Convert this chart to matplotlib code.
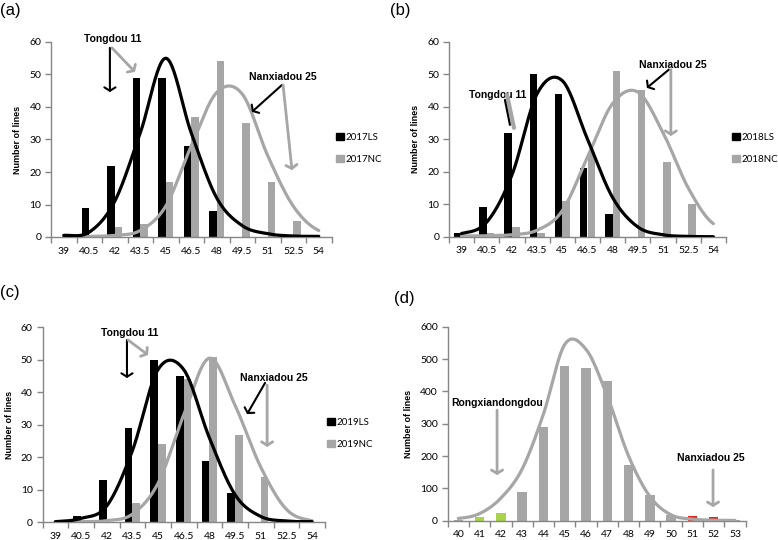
import numpy as np
import matplotlib
matplotlib.use("Agg")
import matplotlib.pyplot as plt
from matplotlib.patches import Patch

W, H = 778, 540

# ---- data ----
cats_abc = ['39', '40.5', '42', '43.5', '45', '46.5', '48', '49.5', '51', '52.5', '54']

ls_2017 = [0, 9, 22, 49, 49, 28, 8, 0, 0, 0, 0]
nc_2017 = [0, 0, 3, 4, 17, 37, 54, 35, 17, 5, 0]
fit_ls_2017 = [0.5, 1.5, 11, 32, 55, 32, 12, 3.5, 1, 0.3, 0.2]
fit_nc_2017 = [0, 0.2, 0.5, 2, 9.5, 28, 44.5, 44, 25, 9.5, 2]

ls_2018 = [1, 9, 32, 50, 44, 21, 7, 0, 0, 0, 0]
nc_2018 = [0, 1, 3, 1, 11, 26, 51, 45, 23, 10, 0]
fit_ls_2018 = [1, 4.5, 19, 44, 48, 30, 12, 3, 0.6, 0.1, 0]
fit_nc_2018 = [0.2, 0.3, 0.6, 2, 8, 24.5, 41, 44.5, 32, 15, 4]

ls_2019 = [0, 2, 13, 29, 50, 45, 19, 9, 0, 0, 0]
nc_2019 = [0, 0, 0, 6, 24, 44, 51, 27, 14, 0, 0]
fit_ls_2019 = [0.2, 1.2, 5, 22, 47, 47, 26, 8.5, 1.8, 0.4, 0.2]
fit_nc_2019 = [0, 0.2, 0.5, 2.5, 12, 33, 50.5, 36, 17, 4, 0.5]

cats_d = ['40', '41', '42', '43', '44', '45', '46', '47', '48', '49', '50', '51', '52', '53']
all_d = [3, 10, 25, 90, 290, 480, 473, 432, 173, 79, 17, 16, 12, 3]
fit_d = [7, 22, 70, 160, 330, 545, 530, 385, 200, 75, 18, 5, 1.5, 1]
# which parent each highlighted bar belongs to
col_d = ['g', 'y', 'y', 'g', 'g', 'g', 'g', 'g', 'g', 'g', 'g', 'r', 'r', 'g']

BLACK = '#000000'
GREY = '#a6a6a6'
GREEN = '#a9d34a'
RED = '#e3241b'
AXCOL = '#868686'

plt.rcParams['font.family'] = ['Lato', 'DejaVu Sans']
BOLD = dict(family='Liberation Sans', weight='bold')


def smooth(vals, n=24):
    # Excel-like smoothed line (Catmull-Rom through the category points)
    v = np.asarray(vals, float)
    xs, ys = [], []
    for i in range(len(v) - 1):
        p0 = v[i - 1] if i > 0 else v[i]
        p1, p2 = v[i], v[i + 1]
        p3 = v[i + 2] if i + 2 < len(v) else v[i + 1]
        t = np.linspace(0, 1, n, endpoint=False)
        y = 0.5 * ((2 * p1) + (-p0 + p2) * t + (2 * p0 - 5 * p1 + 4 * p2 - p3) * t ** 2
                   + (-p0 + 3 * p1 - 3 * p2 + p3) * t ** 3)
        xs.append(i + t)
        ys.append(y)
    xs.append([len(v) - 1])
    ys.append([v[-1]])
    return np.concatenate(xs), np.concatenate(ys)


def make_axes(left, top, right, bottom):
    return fig.add_axes([left / W, 1 - bottom / H, (right - left) / W, (bottom - top) / H])


def style(ax, cats, ymax, ystep):
    n = len(cats)
    ax.set_xlim(-0.5, n - 0.5)
    ax.set_ylim(0, ymax)
    ax.set_yticks(np.arange(0, ymax + 1, ystep))
    ax.set_xticks(np.arange(n))
    ax.set_xticklabels(cats)
    ax.set_xticks(np.arange(n + 1) - 0.5, minor=True)
    ax.tick_params(axis='x', which='major', length=0, pad=7, labelsize=7.5)
    ax.tick_params(axis='x', which='minor', length=4, color=AXCOL, width=1)
    ax.tick_params(axis='y', length=4, color=AXCOL, width=1, labelsize=7.5, pad=3)
    for s in ['top', 'right']:
        ax.spines[s].set_visible(False)
    for s in ['left', 'bottom']:
        ax.spines[s].set_color(AXCOL)
        ax.spines[s].set_linewidth(1)
    ax.set_ylabel('Number of lines', fontsize=6.5, labelpad=5, **BOLD)


def arrow(ax, start, end, color, lw=1.5, head=True):
    st = '->,head_length=0.25,head_width=0.4' if head else '-'
    ax.annotate('', xy=end, xytext=start,
                arrowprops=dict(arrowstyle=st, color=color, lw=lw, shrinkA=0, shrinkB=0),
                annotation_clip=False)


def pair_panel(ax, ls, nc, fit_ls, fit_nc, year, leg_xy):
    x = np.arange(len(cats_abc))
    ax.bar(x - 0.15, ls, width=0.3, color=BLACK, zorder=2)
    ax.bar(x + 0.15, nc, width=0.3, color=GREY, zorder=2)
    sx, sy = smooth(fit_nc)
    ax.plot(sx, sy, color=GREY, lw=2.3, zorder=3, solid_capstyle='round')
    sx, sy = smooth(fit_ls)
    ax.plot(sx, sy, color=BLACK, lw=2.3, zorder=3, solid_capstyle='round')
    style(ax, cats_abc, 60, 10)
    handles = [Patch(color=BLACK), Patch(color=GREY)]
    ax.legend(handles, [year + 'LS', year + 'NC'], loc='upper left',
              bbox_to_anchor=(leg_xy[0] / W, 1 - leg_xy[1] / H), bbox_transform=fig.transFigure,
              frameon=False, fontsize=7, handlelength=0.8, handleheight=0.8,
              handletextpad=0.2, labelspacing=1.3, borderpad=0, borderaxespad=0)


fig = plt.figure(figsize=(W / 100, H / 100), dpi=100)

# (a)
ax = make_axes(51, 42, 331.5, 237)
pair_panel(ax, ls_2017, nc_2017, fit_ls_2017, fit_nc_2017, '2017', (336, 133))
ax.text(1.93, 60.9, 'Tongdou 11', ha='center', va='center', fontsize=7.5, **BOLD)
arrow(ax, (1.81, 58.2), (1.81, 44.6), BLACK, 1.5)
arrow(ax, (1.89, 58.2), (2.79, 50.8), GREY, 2.0)
ax.text(8.6, 49.2, 'Nanxiadou 25', ha='center', va='center', fontsize=7.5, **BOLD)
arrow(ax, (8.56, 46.8), (7.38, 38.5), BLACK, 1.5)
arrow(ax, (8.6, 46.8), (8.95, 20.6), GREY, 2.0)

# (b)
ax = make_axes(449, 41.7, 726, 236.7)
pair_panel(ax, ls_2018, nc_2018, fit_ls_2018, fit_nc_2018, '2018', (732, 133))
ax.text(1.44, 43.7, 'Tongdou 11', ha='center', va='center', fontsize=7.5, **BOLD)
arrow(ax, (1.80, 43.7), (2.08, 33.5), GREY, 3.0, head=False)
arrow(ax, (1.72, 42.1), (1.92, 34.4), BLACK, 1.5, head=False)
ax.text(8.39, 52.9, 'Nanxiadou 25', ha='center', va='center', fontsize=7.5, **BOLD)
arrow(ax, (8.23, 51.4), (7.36, 45.8), BLACK, 1.5)
arrow(ax, (8.31, 51.4), (8.31, 31.0), GREY, 2.0)

# (c)
ax = make_axes(42.5, 327.3, 324.9, 522.3)
pair_panel(ax, ls_2019, nc_2019, fit_ls_2019, fit_nc_2019, '2019', (327, 418))
ax.text(2.91, 58.2, 'Tongdou 11', ha='center', va='center', fontsize=7.5, **BOLD)
arrow(ax, (2.79, 56.1), (2.79, 44.4), BLACK, 1.5)
arrow(ax, (2.83, 56.1), (3.61, 51.5), GREY, 2.0)
ax.text(8.52, 44.4, 'Nanxiadou 25', ha='center', va='center', fontsize=7.5, **BOLD)
arrow(ax, (8.17, 42.9), (7.47, 33.3), BLACK, 1.5)
arrow(ax, (8.25, 42.2), (8.25, 23.2), GREY, 2.0)

# (d)
ax = make_axes(447.7, 326.7, 745.6, 520.7)
xd = np.arange(len(cats_d))
cmap = {'g': GREY, 'y': GREEN, 'r': RED}
ax.bar(xd, all_d, width=0.44, color=[cmap[c] for c in col_d], zorder=2)
sx, sy = smooth(fit_d)
ax.plot(sx, sy, color=GREY, lw=2.3, zorder=3, solid_capstyle='round')
style(ax, cats_d, 600, 100)
ax.text(1.82, 364, 'Rongxiandongdou', ha='center', va='center', fontsize=7.5, **BOLD)
arrow(ax, (1.82, 342), (1.82, 141), GREY, 2.0)
ax.text(11.87, 194, 'Nanxiadou 25', ha='center', va='center', fontsize=7.5, **BOLD)
arrow(ax, (11.97, 157), (11.97, 42), GREY, 2.0)

# panel letters
for lab, px, py in [('(a)', 0, 10), ('(b)', 390, 10), ('(c)', 0, 293), ('(d)', 394, 298)]:
    fig.text(px / W, 1 - py / H, lab, fontsize=12, family='Liberation Sans', va='center', ha='left')

fig.savefig('out.png', dpi=100)
